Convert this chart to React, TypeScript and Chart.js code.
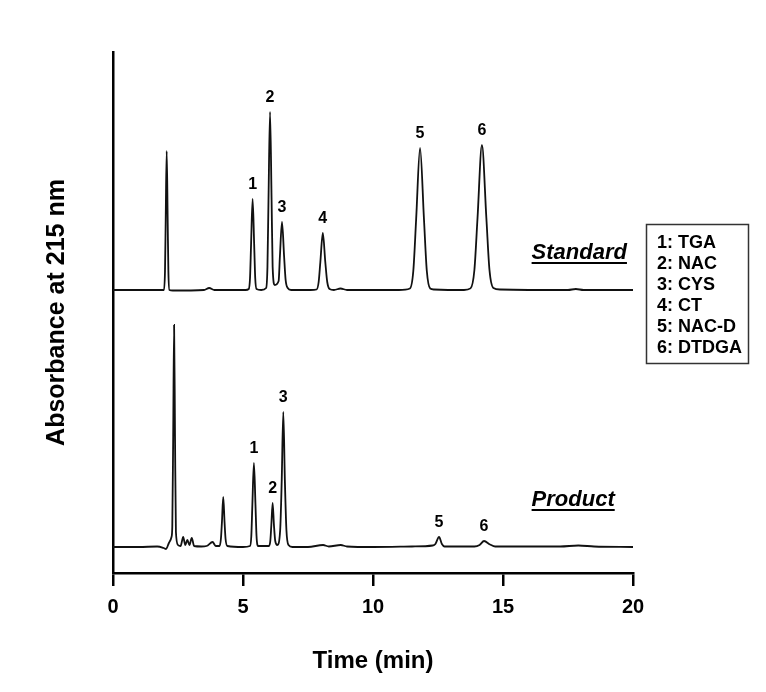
import React, { useEffect, useRef } from "react";
import { Chart, registerables } from "chart.js";

Chart.register(...registerables);

// ---- data (time in min, absorbance in arbitrary units, baseline = 0) ----
const standardTime = [
  0, 1.0, 1.96, 2.0, 2.027, 2.065, 2.103, 2.13, 2.17, 2.3, 3.5, 3.7, 3.9, 5.1,
  5.22, 5.27, 5.31, 5.37, 5.43, 5.47, 5.52, 5.7, 5.89, 5.94, 5.98, 6.04, 6.1,
  6.14, 6.22, 6.37, 6.42, 6.5, 6.58, 6.64, 6.72, 6.85, 7.6, 7.83, 7.91, 7.975,
  8.07, 8.165, 8.24, 8.33, 8.5, 8.75, 9.0, 11.0, 11.42, 11.55, 11.66, 11.81,
  11.96, 12.07, 12.2, 12.35, 13.5, 13.75, 13.9, 14.02, 14.19, 14.36, 14.48,
  14.63, 14.9, 17.5, 17.8, 18.1, 20,
];
const standardSignal = [
  0, 0, 0, 19, 70, 139, 70, 19, 0, -0.5, 0, 2, 0, 0,
  1, 12, 45, 91, 45, 12, 1, 0, 2, 23, 89, 178, 89,
  23, 5, 9, 34, 68, 34, 10, 2, 0, 0, 0.5, 8, 28,
  57, 28, 8, 1, 0, 1.5, 0, 0, 1.5, 19, 71, 142,
  71, 19, 1.5, 0.5, 0, 1.6, 20, 72, 145, 72, 20,
  2, 0.5, 0, 1, 0, 0,
];
const productTime = [
  0, 1.0, 1.7, 1.95, 2.04, 2.15, 2.25, 2.28, 2.315, 2.35, 2.385, 2.42, 2.5,
  2.6, 2.7, 2.78, 2.86, 2.94, 3.03, 3.12, 3.4, 3.6, 3.83, 3.95, 4.1, 4.15,
  4.19, 4.24, 4.29, 4.33, 4.4, 5.0, 5.27, 5.32, 5.36, 5.42, 5.48, 5.52, 5.58,
  6.0, 6.05, 6.09, 6.14, 6.19, 6.24, 6.32, 6.43, 6.49, 6.55, 6.61, 6.67, 6.75,
  6.9, 7.5, 8.08, 8.3, 8.76, 9.0, 10.0, 11.5, 12.3, 12.4, 12.54, 12.65, 12.75,
  13.9, 14.1, 14.27, 14.5, 14.7, 17.2, 17.9, 18.5, 20,
];
const productSignal = [
  0, 0, 0.5, -1, -2, 4, 10, 20, 111, 222, 111, 15, 2,
  1, 10, 2, 7, 2, 9, 1, 0.5, 1, 5, 1, 1, 8,
  25, 50, 25, 8, 1, 0, 1, 11, 42, 84, 42, 11, 1,
  1, 6, 22, 44, 22, 6, 2, 17, 67, 135, 67, 17, 2,
  0, 0, 2, 0.5, 2, 0.5, 0, 0.5, 1.5, 3, 10, 3, 0.5,
  0.5, 2, 6, 2.5, 0.5, 0.5, 1.5, 0.5, 0,
];
const standardOffset = 257; // vertical stacking of the Standard trace

const standardPeakLabels = ["1", "2", "3", "4", "5", "6"];
const standardPeakTimes = [5.37, 6.04, 6.5, 8.07, 11.81, 14.19];
const productPeakLabels = ["1", "2", "3", "5", "6"];
const productPeakTimes = [5.42, 6.14, 6.55, 12.54, 14.27];

const legendItems = ["1: TGA", "2: NAC", "3: CYS", "4: CT", "5: NAC-D", "6: DTDGA"];
const seriesNames = ["Standard", "Product"];
const xTickValues = [0, 5, 10, 15, 20];
const xTitle = "Time (min)";
const yTitle = "Absorbance at 215 nm";

const FONT = "'Liberation Sans', Arial, Helvetica, sans-serif";

const overlay = {
  id: "overlay",
  afterDatasetsDraw(chart: any) {
    const { ctx, chartArea } = chart;
    const xs = chart.scales.x;
    const ys = chart.scales.y;
    ctx.save();
    ctx.fillStyle = "#000";

    // peak number labels
    ctx.font = `bold 16px ${FONT}`;
    ctx.textAlign = "center";
    ctx.textBaseline = "middle";
    const drawPeaks = (labels: string[], times: number[], tArr: number[], vArr: number[], off: number) => {
      labels.forEach((lab, i) => {
        const idx = tArr.indexOf(times[i]);
        const v = vArr[idx] + off;
        ctx.fillText(lab, xs.getPixelForValue(times[i]), ys.getPixelForValue(v) - 14);
      });
    };
    drawPeaks(standardPeakLabels, standardPeakTimes, standardTime, standardSignal, standardOffset);
    drawPeaks(productPeakLabels, productPeakTimes, productTime, productSignal, 0);

    // series names, underlined
    ctx.font = `italic bold 22px ${FONT}`;
    ctx.textAlign = "left";
    const nameX = xs.getPixelForValue(16.1);
    const names: [string, number][] = [
      [seriesNames[0], ys.getPixelForValue(standardOffset) - 37],
      [seriesNames[1], ys.getPixelForValue(0) - 47],
    ];
    names.forEach(([n, cy]) => {
      ctx.fillText(n, nameX, cy);
      const w = ctx.measureText(n).width;
      ctx.fillRect(nameX, cy + 9, w, 2);
    });

    // legend box
    const bx = chartArea.right + 13;
    const by = chartArea.top + 172;
    const bw = 102;
    const bh = 139;
    ctx.strokeStyle = "#333";
    ctx.lineWidth = 1.5;
    ctx.strokeRect(bx + 0.5, by + 0.5, bw, bh);
    ctx.font = `bold 18px ${FONT}`;
    legendItems.forEach((t, i) => {
      ctx.fillText(t, bx + 11, by + 19 + i * 21);
    });

    // axis titles
    ctx.textAlign = "center";
    ctx.font = `bold 24px ${FONT}`;
    ctx.fillText(xTitle, (chartArea.left + chartArea.right) / 2, 661);
    ctx.save();
    ctx.translate(57, (chartArea.top + chartArea.bottom) / 2);
    ctx.rotate(-Math.PI / 2);
    ctx.font = `bold 25px ${FONT}`;
    ctx.fillText(yTitle, 0, 0);
    ctx.restore();

    ctx.restore();
  },
};

export default function App() {
  const ref = useRef<HTMLCanvasElement | null>(null);
  useEffect(() => {
    if (!ref.current) return;
    const mk = (tArr: number[], vArr: number[], off: number) =>
      tArr.map((t, i) => ({ x: t, y: vArr[i] + off }));
    const chart = new Chart(ref.current, {
      type: "line",
      data: {
        datasets: [
          {
            label: seriesNames[0],
            data: mk(standardTime, standardSignal, standardOffset),
            borderColor: "#111",
            borderWidth: 1.8,
            pointRadius: 0,
            cubicInterpolationMode: "monotone",
            fill: false,
          },
          {
            label: seriesNames[1],
            data: mk(productTime, productSignal, 0),
            borderColor: "#111",
            borderWidth: 1.8,
            pointRadius: 0,
            cubicInterpolationMode: "monotone",
            fill: false,
          },
        ],
      },
      options: {
        animation: false,
        responsive: false,
        events: [],
        layout: { padding: { top: 52, right: 133, left: 0, bottom: 0 } },
        plugins: { legend: { display: false }, tooltip: { enabled: false }, title: { display: false } },
        scales: {
          x: {
            type: "linear",
            min: 0,
            max: 20,
            afterFit: (s: any) => {
              s.height = 119;
            },
            afterBuildTicks: (s: any) => {
              s.ticks = xTickValues.map((v) => ({ value: v }));
            },
            grid: {
              display: true,
              drawOnChartArea: false,
              drawTicks: true,
              tickLength: 13,
              color: "#000",
              lineWidth: 2.5,
            },
            border: { display: true, color: "#000", width: 2.5 },
            ticks: {
              color: "#000",
              font: { family: FONT, size: 20, weight: "bold" },
              padding: 9,
              maxRotation: 0,
            },
          },
          y: {
            type: "linear",
            min: -26,
            max: 495,
            afterFit: (s: any) => {
              s.width = 113;
            },
            grid: { display: true, drawOnChartArea: false, drawTicks: false },
            border: { display: true, color: "#000", width: 2.5 },
            ticks: { display: false },
          },
        },
      },
      plugins: [overlay],
    } as any);
    return () => chart.destroy();
  }, []);
  return (
    <div style={{ position: "absolute", left: 0, top: 0, width: 766, height: 692, background: "#fff" }}>
      <canvas ref={ref} width={766} height={692} style={{ display: "block" }} />
    </div>
  );
}
